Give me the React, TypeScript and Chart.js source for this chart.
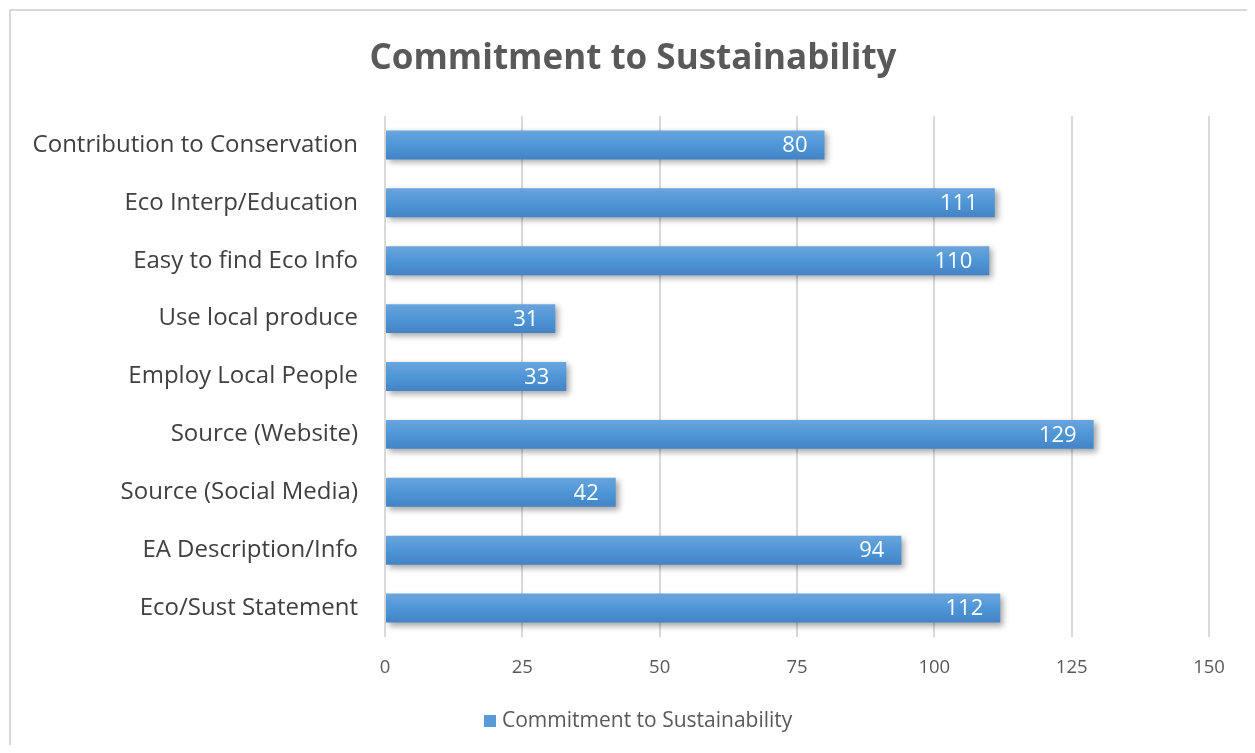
import React, { useEffect, useRef } from "react";
import { Chart, registerables } from "chart.js";

Chart.register(...registerables);

const categories = [
  "Contribution to Conservation",
  "Eco Interp/Education",
  "Easy to find Eco Info",
  "Use local produce",
  "Employ Local People",
  "Source (Website)",
  "Source (Social Media)",
  "EA Description/Info",
  "Eco/Sust Statement",
];
const values = [80, 111, 110, 31, 33, 129, 42, 94, 112];
const seriesName = "Commitment to Sustainability";
const chartTitle = "Commitment to Sustainability";
const xMin = 0;
const xMax = 150;
const xStep = 25;

const FONT = "'Open Sans', sans-serif";
const BAR_COLOR = "#5b9bd5";

const borderPlugin = {
  id: "outerBorder",
  beforeDraw(chart: any) {
    const ctx = chart.ctx;
    ctx.save();
    ctx.strokeStyle = "#d9d9d9";
    ctx.lineWidth = 2;
    ctx.beginPath();
    ctx.moveTo(2, chart.height + 5);
    ctx.lineTo(2, 2);
    ctx.lineTo(chart.width + 5, 2);
    ctx.stroke();
    ctx.restore();
  },
};

const titleLegendPlugin = {
  id: "titleLegend",
  afterDraw(chart: any) {
    const ctx = chart.ctx;
    ctx.save();
    ctx.fillStyle = "#595959";
    ctx.font = `bold 35px ${FONT}`;
    ctx.textAlign = "center";
    ctx.textBaseline = "middle";
    ctx.fillText(chartTitle, 625, 51);
    // legend
    ctx.fillStyle = BAR_COLOR;
    ctx.fillRect(476, 707, 12, 12);
    ctx.fillStyle = "#595959";
    ctx.font = `21px ${FONT}`;
    ctx.textAlign = "left";
    ctx.fillText(chart.data.datasets[0].label, 494, 713);
    ctx.restore();
  },
};

const shadowPlugin = {
  id: "barShadow",
  beforeDatasetDraw(chart: any) {
    const ctx = chart.ctx;
    ctx.save();
    ctx.shadowColor = "rgba(0,0,0,0.35)";
    ctx.shadowBlur = 6;
    ctx.shadowOffsetX = 3;
    ctx.shadowOffsetY = 3;
  },
  afterDatasetDraw(chart: any) {
    chart.ctx.restore();
  },
};

const labelPlugin = {
  id: "barLabels",
  afterDatasetsDraw(chart: any) {
    const ctx = chart.ctx;
    const meta = chart.getDatasetMeta(0);
    ctx.save();
    ctx.fillStyle = "#ffffff";
    ctx.font = `22px ${FONT}`;
    ctx.textAlign = "right";
    ctx.textBaseline = "middle";
    meta.data.forEach((bar: any, i: number) => {
      ctx.fillText(String(chart.data.datasets[0].data[i]), bar.x - 17, bar.y + 1);
    });
    ctx.restore();
  },
};

export default function App() {
  const ref = useRef<HTMLCanvasElement>(null);
  useEffect(() => {
    if (!ref.current) return;
    const chart = new Chart(ref.current, {
      type: "bar",
      data: {
        labels: categories,
        datasets: [
          {
            label: seriesName,
            data: values,
            backgroundColor: (c: any) => {
              const ch = c.chart;
              const ys = ch.scales && ch.scales.y;
              if (!ys || c.type !== "data") return BAR_COLOR;
              const yc = ys.getPixelForValue(c.dataIndex);
              if (!isFinite(yc)) return BAR_COLOR;
              const h = 15;
              const g = ch.ctx.createLinearGradient(0, yc - h, 0, yc + h);
              g.addColorStop(0, "#6ba5dd");
              g.addColorStop(0.5, "#4f96d6");
              g.addColorStop(1, "#4283c6");
              return g;
            },
            borderWidth: 0,
            barPercentage: 0.5,
            categoryPercentage: 1,
          },
        ],
      },
      options: {
        indexAxis: "y",
        animation: false,
        responsive: false,
        maintainAspectRatio: false,
        layout: { padding: { top: 108, right: 38, bottom: 45, left: 0 } },
        scales: {
          x: {
            min: xMin,
            max: xMax,
            ticks: {
              stepSize: xStep,
              color: "#595959",
              font: { family: FONT, size: 18.5 },
              padding: 20,
            },
            grid: { color: "#d9d9d9", lineWidth: 2, drawTicks: false },
            border: { display: false },
            afterFit: (s: any) => {
              s.height = 63;
            },
          },
          y: {
            ticks: {
              color: "#404040",
              font: { family: FONT, size: 24 },
              padding: 27,
            },
            grid: { display: false, drawTicks: false },
            border: { display: false },
            afterFit: (s: any) => {
              s.width = 377;
            },
          },
        },
        plugins: {
          title: { display: false },
          legend: { display: false },
          tooltip: { enabled: false },
        },
      },
      plugins: [borderPlugin, shadowPlugin, labelPlugin, titleLegendPlugin],
    });
    return () => chart.destroy();
  }, []);
  return (
    <div style={{ width: 1239, height: 737 }}>
      <canvas ref={ref} width={1239} height={737} style={{ display: "block" }} />
    </div>
  );
}
